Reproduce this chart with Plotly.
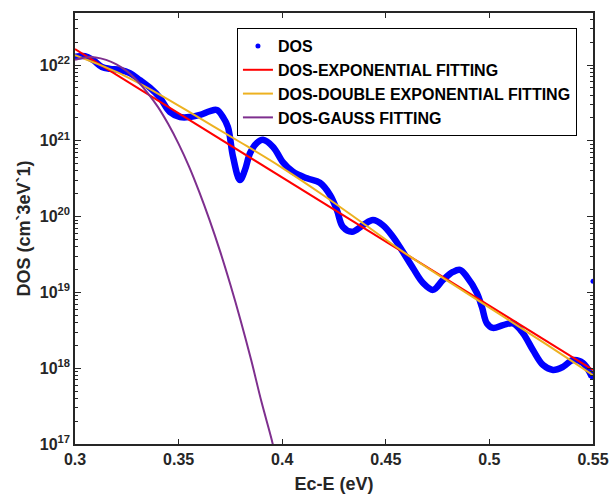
import plotly.graph_objects as go

# ---- data ----
dos_x = [0.3000, 0.3048, 0.3087, 0.3130, 0.3169, 0.3217, 0.3265, 0.3314, 0.3362, 0.3410,
         0.3458, 0.3507, 0.3555, 0.3603, 0.3652, 0.3685, 0.3714, 0.3738, 0.3763, 0.3796,
         0.3820, 0.3845, 0.3878, 0.3907, 0.3956, 0.4004, 0.4052, 0.4120, 0.4182, 0.4231,
         0.4264, 0.4293, 0.4337, 0.4390, 0.4438, 0.4486, 0.4535, 0.4583, 0.4631, 0.4680,
         0.4728, 0.4776, 0.4824, 0.4858, 0.4892, 0.4940, 0.4964, 0.4988, 0.5017, 0.5066,
         0.5114, 0.5162, 0.5210, 0.5259, 0.5307, 0.5355, 0.5403, 0.5452, 0.5495]
dos_y = [1.28e22, 1.31e22, 1.16e22, 9.4e21, 8.9e21, 8.6e21, 7.8e21, 6.3e21, 5.0e21, 3.7e21,
         2.4e21, 2.06e21, 2.06e21, 2.19e21, 2.47e21, 2.55e21, 2.06e21, 1.52e21, 6.1e20, 3.04e20,
         4.1e20, 6.9e20, 9.4e20, 1.03e21, 8.3e20, 5.2e20, 3.9e20, 3.2e20, 2.8e20, 1.93e20,
         1.22e20, 7.3e19, 6.3e19, 7.7e19, 9.0e19, 7.7e19, 5.4e19, 3.4e19, 2.1e19, 1.33e19,
         1.08e19, 1.46e19, 1.86e19, 1.98e19, 1.60e19, 9.8e18, 6.4e18, 3.9e18, 3.4e18, 3.7e18,
         3.9e18, 2.9e18, 1.74e18, 1.10e18, 9.5e17, 1.04e18, 1.28e18, 1.17e18, 7.7e17]
dos_extra_x = [0.55]
dos_extra_y = [1.4e19]

exp_x = [0.30, 0.55]
exp_y = [1.62e22, 9.5e17]

dexp_x = [0.30, 0.32, 0.34, 0.36, 0.38, 0.40, 0.42, 0.44, 0.46, 0.48, 0.50, 0.52, 0.54, 0.55]
dexp_y = [1.35e22, 8.1e21, 4.2e21, 2.0e21, 9.5e20, 4.4e20, 1.9e20, 7.8e19, 3.2e19, 1.41e19,
          6.3e18, 2.8e18, 1.23e18, 8.1e17]

gauss_x = [0.300, 0.305, 0.310, 0.315, 0.320, 0.325, 0.330, 0.335, 0.340, 0.345, 0.350,
           0.355, 0.360, 0.365, 0.370, 0.375, 0.380, 0.385, 0.390, 0.395, 0.397]
gauss_y = [1.17e22, 1.26e22, 1.26e22, 1.17e22, 1.02e22, 8.3e21, 6.2e21, 4.3e21, 2.8e21, 1.66e21,
           9.1e20, 4.6e20, 2.1e20, 8.9e19, 3.5e19, 1.26e19, 4.2e18, 1.29e18, 3.6e17, 1.12e17, 6.3e16]

x_ticks = [0.3, 0.35, 0.4, 0.45, 0.5, 0.55]
x_tick_text = ["0.3", "0.35", "0.4", "0.45", "0.5", "0.55"]
y_ticks = [1e17, 1e18, 1e19, 1e20, 1e21, 1e22]
y_tick_text = ["10<sup>17</sup>", "10<sup>18</sup>", "10<sup>19</sup>", "10<sup>20</sup>",
               "10<sup>21</sup>", "10<sup>22</sup>"]

BLUE = "#0000FF"
RED = "#FF0000"
YELLOW = "#EDB120"
PURPLE = "#7E2F8E"
AX = "#262626"
FONT = "Liberation Sans, Arial, sans-serif"

fig = go.Figure()
fig.add_trace(go.Scatter(x=dos_x, y=dos_y, mode="lines", line=dict(color=BLUE, width=6.5, shape="spline"),
                         showlegend=False, hoverinfo="skip"))
fig.add_trace(go.Scatter(x=dos_x + dos_extra_x, y=dos_y + dos_extra_y, mode="markers",
                         marker=dict(color=BLUE, size=5), name="DOS"))
fig.add_trace(go.Scatter(x=exp_x, y=exp_y, mode="lines", line=dict(color=RED, width=2),
                         name="DOS-EXPONENTIAL FITTING"))
fig.add_trace(go.Scatter(x=dexp_x, y=dexp_y, mode="lines", line=dict(color=YELLOW, width=2, shape="spline"),
                         name="DOS-DOUBLE EXPONENTIAL FITTING"))
fig.add_trace(go.Scatter(x=gauss_x, y=gauss_y, mode="lines", line=dict(color=PURPLE, width=2, shape="spline"),
                         name="DOS-GAUSS FITTING"))

fig.update_layout(
    width=611, height=497,
    margin=dict(l=75, r=18, t=13, b=53, autoexpand=False),
    paper_bgcolor="white", plot_bgcolor="white",
    font=dict(family=FONT, color="black", size=16),
    legend=dict(x=0.969, xanchor="right", y=0.965, yanchor="top",
                bgcolor="white", bordercolor="black", borderwidth=1,
                font=dict(family=FONT, size=16, weight="bold", color="black"),
                tracegroupgap=0),
)
fig.update_xaxes(
    range=[0.3, 0.55], tickvals=x_ticks, ticktext=x_tick_text,
    automargin=False, ticklabeloverflow="allow",
    showgrid=False, zeroline=False,
    showline=True, linecolor=AX, linewidth=1.5, mirror="allticks",
    ticks="inside", ticklen=5, tickwidth=1, tickcolor=AX,
    tickfont=dict(family=FONT, size=16, weight="bold", color=AX),
    title=dict(text="Ec-E (eV)", font=dict(family=FONT, size=18, weight="bold", color=AX), standoff=10),
)
fig.update_yaxes(
    type="log", range=[17, 22.686], tickvals=y_ticks, ticktext=y_tick_text,
    automargin=False,
    showgrid=False, zeroline=False,
    showline=True, linecolor=AX, linewidth=1.5, mirror="allticks",
    ticks="inside", ticklen=6, tickwidth=1, tickcolor=AX,
    minor=dict(ticks="inside", ticklen=3, tickcolor=AX, dtick="D1", showgrid=False),
    tickfont=dict(family=FONT, size=16, weight="bold", color=AX),
    title=dict(text="DOS (cm`3eV`1)", font=dict(family=FONT, size=18, weight="bold", color=AX), standoff=4),
)

fig.write_html("out.html", config={"displayModeBar": False},
               post_script="document.body.style.margin='0';document.body.style.overflow='hidden';")
